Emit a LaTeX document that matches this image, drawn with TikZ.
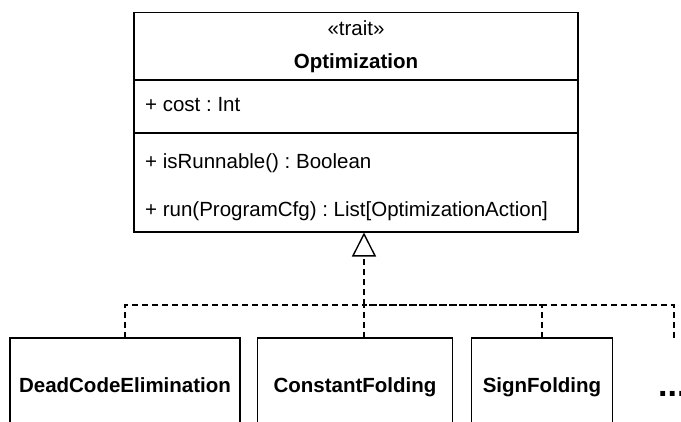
\documentclass[tikz,border=0pt]{standalone}
\usepackage{fontspec}
\setmainfont{Liberation Sans}
\usetikzlibrary{positioning,arrows.meta,calc}
\frenchspacing

\begin{document}
\begin{tikzpicture}[
  x=1pt, y=-1pt,
  umlbox/.style={draw, rectangle, line width=1.4pt, anchor=north west, inner sep=0pt, outer sep=0pt},
  member/.style={anchor=base west, inner sep=0pt, font=\fontsize{20.5}{24}\selectfont},
  title/.style={anchor=base, inner sep=0pt, font=\fontsize{20.5}{24}\selectfont},
  impl/.style={draw, rectangle, line width=1.4pt, anchor=north, outer sep=0pt, minimum height=94pt, text height=15pt, text depth=0pt, font=\fontsize{20.5}{24}\selectfont\bfseries},
  realize/.style={line width=1.3pt, dash pattern=on 6pt off 4pt},
  inh/.style={realize, -{Triangle[open, length=24pt, width=24pt, line width=1.4pt]}},
]
  \useasboundingbox (0,0) rectangle (681,421);
  \clip (0,0) rectangle (681,421);

  % the trait
  \node[umlbox, minimum width=444pt, minimum height=67.3pt] (head)  at (134,12.7) {};
  \node[umlbox, minimum width=444pt, minimum height=53pt]   (attrs) at (head.south west) {};
  \node[umlbox, minimum width=444pt, minimum height=99pt]   (meths) at (attrs.south west) {};
  \node[title]  (stereo)   at (356,35)    {«trait»};
  \node[title]  (name)     at (356,68)    {\textbf{Optimization}};
  \node[member] (cost)     at (145,111.7) {+ cost : Int};
  \node[member] (runnable) at (145,168)   {+ isRunnable() : Boolean};
  \node[member] (run)      at (145,216.7) {+ run(ProgramCfg) : List[OptimizationAction]};

  % implementations
  \node[impl, minimum width=230pt] (dce) at (125,338) {DeadCodeElimination};
  \node[impl, minimum width=195pt] (cf)  at (355,338) {ConstantFolding};
  \node[impl, minimum width=141pt] (sf)  at (542,338) {SignFolding};
  \node[anchor=base west, inner sep=0pt, font=\fontsize{34}{40}\selectfont\bfseries] (more) at (658,396) {...};

  \coordinate (apex) at (364,232.5);
  \coordinate (jn)   at (364,305);
  \coordinate (moreend) at (674,338);

  \draw[realize] (dce.north) |- (jn);
  \draw[realize] (jn |- cf.north) -- (jn);
  \draw[realize] (sf.north) |- (jn);
  \draw[realize] (moreend) |- (jn);
  \draw[inh] (jn) -- (apex);
\end{tikzpicture}
\end{document}
